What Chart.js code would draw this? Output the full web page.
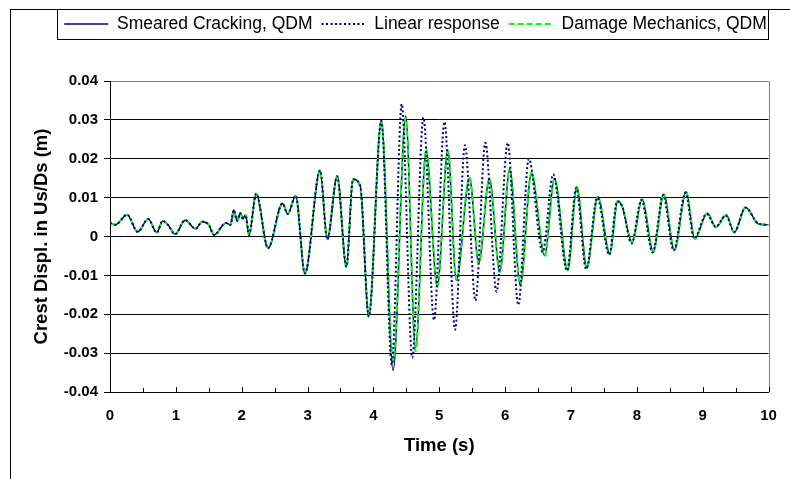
<!DOCTYPE html>
<html>
<head>
<meta charset="utf-8">
<script src="https://cdn.jsdelivr.net/npm/chart.js@4.4.1/dist/chart.umd.min.js"></script>
<style>
  html, body { margin: 0; padding: 0; background: #fff; overflow: hidden; }
  .wrap { position: relative; width: 790px; height: 479px; }
  .frame { position: absolute; left: 10px; top: 9px; width: 900px; height: 600px;
           border-left: 1px solid #000; border-top: 1px solid #000; }
  canvas { position: absolute; left: 0; top: 0; }
</style>
</head>
<body>
<div class="wrap">
  <div class="frame"></div>
  <canvas id="crest" width="790" height="479"></canvas>
</div>
<script>
// Data (time in s, crest displacement in m)
const smearedTime = [0, 0.08, 0.26, 0.42, 0.58, 0.71, 0.8, 0.88, 0.99, 1.14,
  1.3, 1.4, 1.5, 1.58, 1.76, 1.83, 1.88, 1.93, 1.98, 2.02,
  2.06, 2.11, 2.22, 2.4, 2.62, 2.7, 2.82, 2.96, 3.19, 3.3,
  3.45, 3.59, 3.69, 3.8, 3.93, 4.12, 4.3, 4.49, 4.64, 4.8,
  4.97, 5.13, 5.26, 5.46, 5.6, 5.76, 5.92, 6.07, 6.23, 6.4,
  6.6, 6.75, 6.95, 7.09, 7.24, 7.41, 7.59, 7.71, 7.78, 7.93,
  8.08, 8.25, 8.41, 8.57, 8.75, 8.88, 9.07, 9.2, 9.36, 9.48,
  9.65, 9.85, 10];
const smearedDispl = [0.0035, 0.003, 0.0056, 0.0012, 0.0045, 0.001, 0.004, 0.003, 0.0006, 0.0042,
  0.002, 0.0038, 0.003, 0.0004, 0.0035, 0.003, 0.0068, 0.004, 0.006, 0.0045,
  0.0055, 0.0004, 0.011, -0.003, 0.0085, 0.0058, 0.0105, -0.0095, 0.017, -0.0007,
  0.0155, -0.0078, 0.0147, 0.013, -0.0206, 0.0298, -0.0345, 0.031, -0.0287, 0.022,
  -0.0129, 0.0222, -0.0112, 0.015, -0.0069, 0.015, -0.009, 0.0173, -0.0125, 0.0163,
  -0.0048, 0.015, -0.0086, 0.0127, -0.0081, 0.0102, -0.0045, 0.0092, 0.0076, -0.0016,
  0.0096, -0.0039, 0.0109, -0.0035, 0.0115, -0.0006, 0.006, 0.0024, 0.0055, 0.001,
  0.0075, 0.0032, 0.003];
const damageDispl = [0.0035, 0.003, 0.0056, 0.0012, 0.0045, 0.001, 0.004, 0.003, 0.0006, 0.0042,
  0.002, 0.0038, 0.003, 0.0004, 0.0035, 0.003, 0.0068, 0.004, 0.006, 0.0045,
  0.0055, 0.0004, 0.011, -0.003, 0.0085, 0.0058, 0.0105, -0.0095, 0.017, -0.0007,
  0.0155, -0.0078, 0.0147, 0.013, -0.0204, 0.0296, -0.032, 0.0305, -0.0295, 0.0225,
  -0.0125, 0.022, -0.011, 0.0152, -0.0068, 0.0148, -0.0092, 0.0175, -0.0123, 0.0165,
  -0.005, 0.0148, -0.0088, 0.0128, -0.0082, 0.0102, -0.0046, 0.0092, 0.0076, -0.0016,
  0.0096, -0.0039, 0.0109, -0.0035, 0.0115, -0.0006, 0.006, 0.0024, 0.0055, 0.001,
  0.0075, 0.0032, 0.003];
const linearTime = [0, 0.08, 0.26, 0.42, 0.58, 0.71, 0.8, 0.88, 0.99, 1.14,
  1.3, 1.4, 1.5, 1.58, 1.76, 1.83, 1.88, 1.93, 1.98, 2.02,
  2.06, 2.11, 2.22, 2.4, 2.62, 2.7, 2.82, 2.96, 3.19, 3.3,
  3.45, 3.59, 3.69, 3.8, 3.93, 4.12, 4.28, 4.43, 4.59, 4.76,
  4.92, 5.08, 5.24, 5.39, 5.55, 5.7, 5.87, 6.04, 6.2, 6.36,
  6.57, 6.73, 6.94, 7.08, 7.23, 7.4, 7.58, 7.7, 7.78, 7.92,
  8.07, 8.24, 8.4, 8.56, 8.74, 8.87, 9.06, 9.2, 9.35, 9.48,
  9.65, 9.85, 10];
const linearDispl = [0.0035, 0.003, 0.0056, 0.0012, 0.0045, 0.001, 0.004, 0.003, 0.0006, 0.0042,
  0.002, 0.0038, 0.003, 0.0004, 0.0035, 0.003, 0.0068, 0.004, 0.006, 0.0045,
  0.0055, 0.0004, 0.011, -0.003, 0.0085, 0.0058, 0.0105, -0.0095, 0.017, -0.0007,
  0.0155, -0.0078, 0.0147, 0.013, -0.0206, 0.0298, -0.033, 0.0341, -0.0312, 0.0306,
  -0.0215, 0.0295, -0.024, 0.0235, -0.0165, 0.0241, -0.0142, 0.0241, -0.0176, 0.02,
  -0.004, 0.016, -0.0088, 0.0125, -0.0084, 0.01, -0.0047, 0.009, 0.0077, -0.0018,
  0.0094, -0.0041, 0.0107, -0.0036, 0.0113, -0.0005, 0.0058, 0.0025, 0.0054, 0.0012,
  0.0074, 0.0033, 0.003];

const xTickLabels = ['0', '1', '2', '3', '4', '5', '6', '7', '8', '9', '10'];
const yTickLabels = ['-0.04', '-0.03', '-0.02', '-0.01', '0', '0.01', '0.02', '0.03', '0.04'];

const toPoints = (times, values) => times.map((t, i) => ({ x: t, y: values[i] }));

Chart.defaults.font.family = '"Liberation Sans", Arial, sans-serif';
Chart.defaults.color = '#000';

// moves the legend to its spot, draws its box, the plot's right edge and the inside time ticks
const chartDecor = {
  id: 'chartDecor',
  afterLayout(chart) {
    const lg = chart.legend;
    const dx = 415.5 - (lg.left + lg.right) / 2;
    const dy = 6.25 - lg.top;
    lg.left += dx; lg.right += dx;
    lg.top += dy; lg.bottom += dy;
  },
  afterDraw(chart) {
    const { ctx, chartArea, legend } = chart;
    const xs = chart.scales.x;
    ctx.save();
    ctx.lineWidth = 1;
    ctx.strokeStyle = '#000';
    const span = legend.lineWidths[0] - legend.options.labels.padding;
    const mid = (legend.left + legend.right) / 2;
    ctx.strokeRect(Math.round(mid - span / 2) - 6.5, 9.5, Math.round(span) + 9, 30);

    ctx.strokeStyle = '#808080';
    ctx.beginPath();
    ctx.moveTo(Math.round(chartArea.right) + 0.5, chartArea.top);
    ctx.lineTo(Math.round(chartArea.right) + 0.5, chartArea.bottom);
    ctx.stroke();

    ctx.strokeStyle = '#000';
    ctx.beginPath();
    for (let t = xs.min; t <= xs.max + 1e-9; t += 0.5) {
      const px = Math.round(xs.getPixelForValue(t)) + 0.5;
      ctx.moveTo(px, chartArea.bottom);
      ctx.lineTo(px, chartArea.bottom - (Math.abs(t % 1) < 1e-9 ? 5 : 4));
    }
    ctx.stroke();
    ctx.restore();
  }
};

// legend samples take the dash and width of their line, not of its points
const legendItems = (chart) =>
  Chart.defaults.plugins.legend.labels.generateLabels(chart).map((item) => {
    const ds = chart.data.datasets[item.datasetIndex];
    return Object.assign(item, {
      lineDash: ds.borderDash || [],
      lineWidth: ds.borderWidth,
      strokeStyle: ds.borderColor,
      pointStyle: 'line'
    });
  });

new Chart(document.getElementById('crest'), {
  type: 'line',
  data: {
    datasets: [
      {
        label: 'Smeared Cracking, QDM',
        data: toPoints(smearedTime, smearedDispl),
        borderColor: '#000080',
        backgroundColor: '#000080',
        borderWidth: 1.5,
        order: 2
      },
      {
        label: 'Linear response',
        data: toPoints(linearTime, linearDispl),
        borderColor: '#000080',
        backgroundColor: '#000080',
        borderWidth: 2,
        borderDash: [2, 2.5],
        order: 0
      },
      {
        label: 'Damage Mechanics, QDM',
        data: toPoints(smearedTime, damageDispl),
        borderColor: '#00ff00',
        backgroundColor: '#00ff00',
        borderWidth: 2,
        borderDash: [6, 3],
        order: 1
      }
    ]
  },
  options: {
    responsive: false,
    animation: false,
    elements: {
      point: { radius: 0 },
      line: { cubicInterpolationMode: 'monotone', fill: false }
    },
    layout: { padding: { left: 0, right: 21.5, top: 44.5, bottom: 0 } },
    plugins: {
      tooltip: { enabled: false },
      legend: {
        position: 'top',
        labels: {
          usePointStyle: true,
          pointStyle: 'line',
          pointStyleWidth: 44,
          padding: 9,
          font: { size: 17.5 },
          generateLabels: legendItems,
          sort: (a, b) => a.datasetIndex - b.datasetIndex
        }
      }
    },
    scales: {
      x: {
        type: 'linear',
        min: 0,
        max: 10,
        grid: { display: false },
        border: { color: '#000', width: 1 },
        ticks: {
          stepSize: 1,
          autoSkip: false,
          maxRotation: 0,
          padding: 7,
          font: { size: 15, weight: 'bold' },
          callback: (v, i) => xTickLabels[i]
        },
        title: {
          display: true,
          text: 'Time (s)',
          font: { size: 18.5, weight: 'bold' },
          padding: { top: 0, bottom: 22 }
        },
        afterFit: (s) => { s.height = 87; }
      },
      y: {
        min: -0.04,
        max: 0.04,
        grid: {
          color: (c) => (c.tick && Math.abs(c.tick.value - 0.04) < 1e-9 ? '#808080' : '#000'),
          tickColor: '#000',
          tickLength: 6,
          lineWidth: 1
        },
        border: { color: '#000', width: 1 },
        ticks: {
          stepSize: 0.01,
          padding: 6,
          font: { size: 15, weight: 'bold' },
          callback: (v, i) => yTickLabels[i]
        },
        title: {
          display: true,
          text: 'Crest Displ. in Us/Ds (m)',
          font: { size: 18.5, weight: 'bold' },
          padding: { top: 31, bottom: 0 }
        },
        afterFit: (s) => { s.width = 110; }
      }
    }
  },
  plugins: [chartDecor]
});
</script>
</body>
</html>
